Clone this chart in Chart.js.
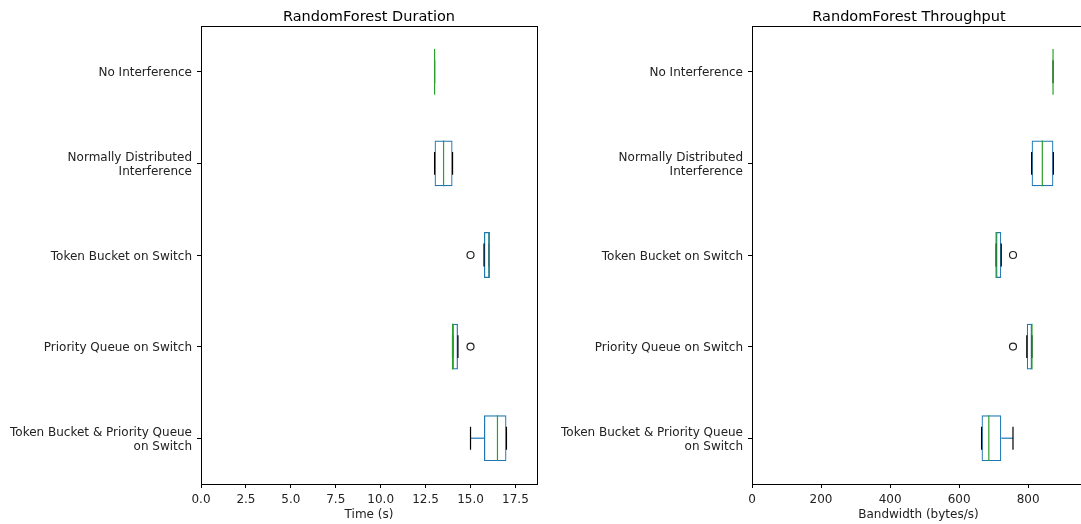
<!DOCTYPE html>
<html>
<head>
<meta charset="utf-8">
<script src="https://cdn.jsdelivr.net/npm/chart.js@4.4.0/dist/chart.umd.min.js"></script>
<style>
  html, body { margin: 0; padding: 0; background: #fff; }
  #wrap { position: relative; width: 1081px; height: 524px; overflow: hidden; }
  canvas { position: absolute; top: 0; }
</style>
</head>
<body>
<div id="wrap">
  <canvas id="durChart" width="545" height="524" style="left:0"></canvas>
  <canvas id="tputChart" width="545" height="524" style="left:545px"></canvas>
</div>
<script>
// categories, top to bottom
const categories = [
  'No Interference',
  ['Normally Distributed', 'Interference'],
  'Token Bucket on Switch',
  'Priority Queue on Switch',
  ['Token Bucket & Priority Queue', 'on Switch']
];

// duration (s)
const durLow  = [13.0, 13.0, 15.75, 14.0, 15.0];
const durQ1   = [13.0, 13.0, 15.75, 14.0, 15.75];
const durMed  = [13.0, 13.5, 16.05, 14.0, 16.5];
const durQ3   = [13.0, 14.0, 16.05, 14.3, 17.0];
const durHigh = [13.0, 14.0, 16.05, 14.3, 17.0];
const durFliers = [null, null, 15.0, 15.0, null];
const durTicks = [0, 2.5, 5, 7.5, 10, 12.5, 15, 17.5];

// throughput (bytes/s)
const tputLow  = [872, 810, 707, 796, 665];
const tputQ1   = [872, 810, 707, 796, 665];
const tputMed  = [872, 841, 707, 811, 686];
const tputQ3   = [872, 873, 722, 811, 722];
const tputHigh = [872, 873, 722, 811, 756];
const tputFliers = [null, null, 756, 756, null];
const tputTicks = [0, 200, 400, 600, 800];

const BLUE = '#1f77b4';
const GREEN = '#2ca02c';
const INK = '#222';

Chart.defaults.font.family = "'DejaVu Sans', sans-serif";
Chart.defaults.font.size = 12;
Chart.defaults.color = INK;

// whiskers, caps and medians, placed with the chart's scales
function boxParts(s) {
  return {
    id: 'boxParts',
    afterDatasetsDraw(chart) {
      const { ctx, scales: { x, y } } = chart;
      const band = Math.abs(y.getPixelForValue(1) - y.getPixelForValue(0));
      const half = band * 0.25, cap = band * 0.125;
      ctx.save();
      ctx.lineWidth = 1.2;
      s.low.forEach((lo, i) => {
        const cy = y.getPixelForValue(i);
        const pLo = x.getPixelForValue(lo), pQ1 = x.getPixelForValue(s.q1[i]);
        const pQ3 = x.getPixelForValue(s.q3[i]), pHi = x.getPixelForValue(s.high[i]);
        // whiskers
        ctx.strokeStyle = BLUE;
        ctx.beginPath();
        ctx.moveTo(pLo, cy); ctx.lineTo(pQ1, cy);
        ctx.moveTo(pQ3, cy); ctx.lineTo(pHi, cy);
        ctx.stroke();
        // caps
        ctx.strokeStyle = '#000';
        ctx.beginPath();
        ctx.moveTo(pLo, cy - cap); ctx.lineTo(pLo, cy + cap);
        ctx.moveTo(pHi, cy - cap); ctx.lineTo(pHi, cy + cap);
        ctx.stroke();
        // median
        const pM = x.getPixelForValue(s.med[i]);
        ctx.strokeStyle = GREEN;
        ctx.beginPath();
        ctx.moveTo(pM, cy - half); ctx.lineTo(pM, cy + half);
        ctx.stroke();
      });
      ctx.restore();
    }
  };
}

// axes frame + title centred over the plot area (like matplotlib)
function frame(title, titleRight) {
  return {
    id: 'frame',
    afterDraw(chart) {
      const { ctx, chartArea: a } = chart;
      ctx.save();
      ctx.strokeStyle = '#000';
      ctx.lineWidth = 1;
      ctx.strokeRect(Math.round(a.left) + 0.5, Math.round(a.top) + 0.5,
        Math.round(a.right - a.left), Math.round(a.bottom - a.top));
      ctx.fillStyle = '#000';
      ctx.font = "14.5px 'DejaVu Sans', sans-serif";
      ctx.textAlign = 'center';
      ctx.textBaseline = 'alphabetic';
      ctx.fillText(title, (a.left + Math.min(a.right, titleRight)) / 2, 21);
      ctx.restore();
    }
  };
}

function boxChart(id, o) {
  return new Chart(document.getElementById(id), {
    type: 'bar',
    data: {
      labels: categories,
      datasets: [
        {
          data: o.q1.map((v, i) => [v, o.q3[i]]),
          borderColor: BLUE,
          backgroundColor: 'rgba(0,0,0,0)',
          borderWidth: 1.2,
          borderSkipped: false,
          barPercentage: 0.5,
          categoryPercentage: 1
        },
        {
          type: 'scatter',
          data: o.fliers.map((v, i) => ({ x: v, y: categories[i] })),
          showLine: false,
          pointRadius: 3.5,
          pointBorderWidth: 1.2,
          pointBorderColor: INK,
          pointBackgroundColor: 'rgba(0,0,0,0)'
        }
      ]
    },
    options: {
      responsive: false,
      animation: false,
      indexAxis: 'y',
      layout: { padding: { left: 0, right: o.padRight, top: 26, bottom: 0 } },
      plugins: {
        legend: { display: false },
        tooltip: { enabled: false },
        title: { display: false }
      },
      scales: {
        x: {
          type: 'linear', min: 0, max: o.xMax,
          afterBuildTicks: ax => { ax.ticks = o.ticks.map(v => ({ value: v })); },
          afterFit: ax => { ax.height = 40; },
          grid: { drawOnChartArea: false, tickLength: 4, color: '#000' },
          border: { display: false },
          ticks: { padding: 5, maxRotation: 0, callback: o.fmt },
          title: { display: true, text: o.xTitle, padding: { top: 0, bottom: 1.5 } }
        },
        y: {
          type: 'category',
          afterFit: ax => { ax.width = o.yWidth; },
          grid: { offset: false, drawOnChartArea: false, tickLength: 4, color: '#000' },
          border: { display: false },
          ticks: { padding: 5, autoSkip: false, labelOffset: 1.5 }
        }
      }
    },
    plugins: [boxParts({ low: o.low, q1: o.q1, med: o.med, q3: o.q3, high: o.high }),
      frame(o.title, o.titleRight)]
  });
}

boxChart('durChart', {
  title: 'RandomForest Duration', xTitle: 'Time (s)',
  low: durLow, q1: durQ1, med: durMed, q3: durQ3, high: durHigh, fliers: durFliers,
  ticks: durTicks, xMax: 18.7, fmt: v => Number(v).toFixed(1),
  yWidth: 201, padRight: 8, titleRight: 999
});

// the right panel's plot runs past the page edge, as in the reference
boxChart('tputChart', {
  title: 'RandomForest Throughput', xTitle: 'Bandwidth (bytes/s)',
  low: tputLow, q1: tputQ1, med: tputMed, q3: tputQ3, high: tputHigh, fliers: tputFliers,
  ticks: tputTicks, xMax: 964, fmt: v => String(v),
  yWidth: 207, padRight: 0, titleRight: 521
});
</script>
</body>
</html>
